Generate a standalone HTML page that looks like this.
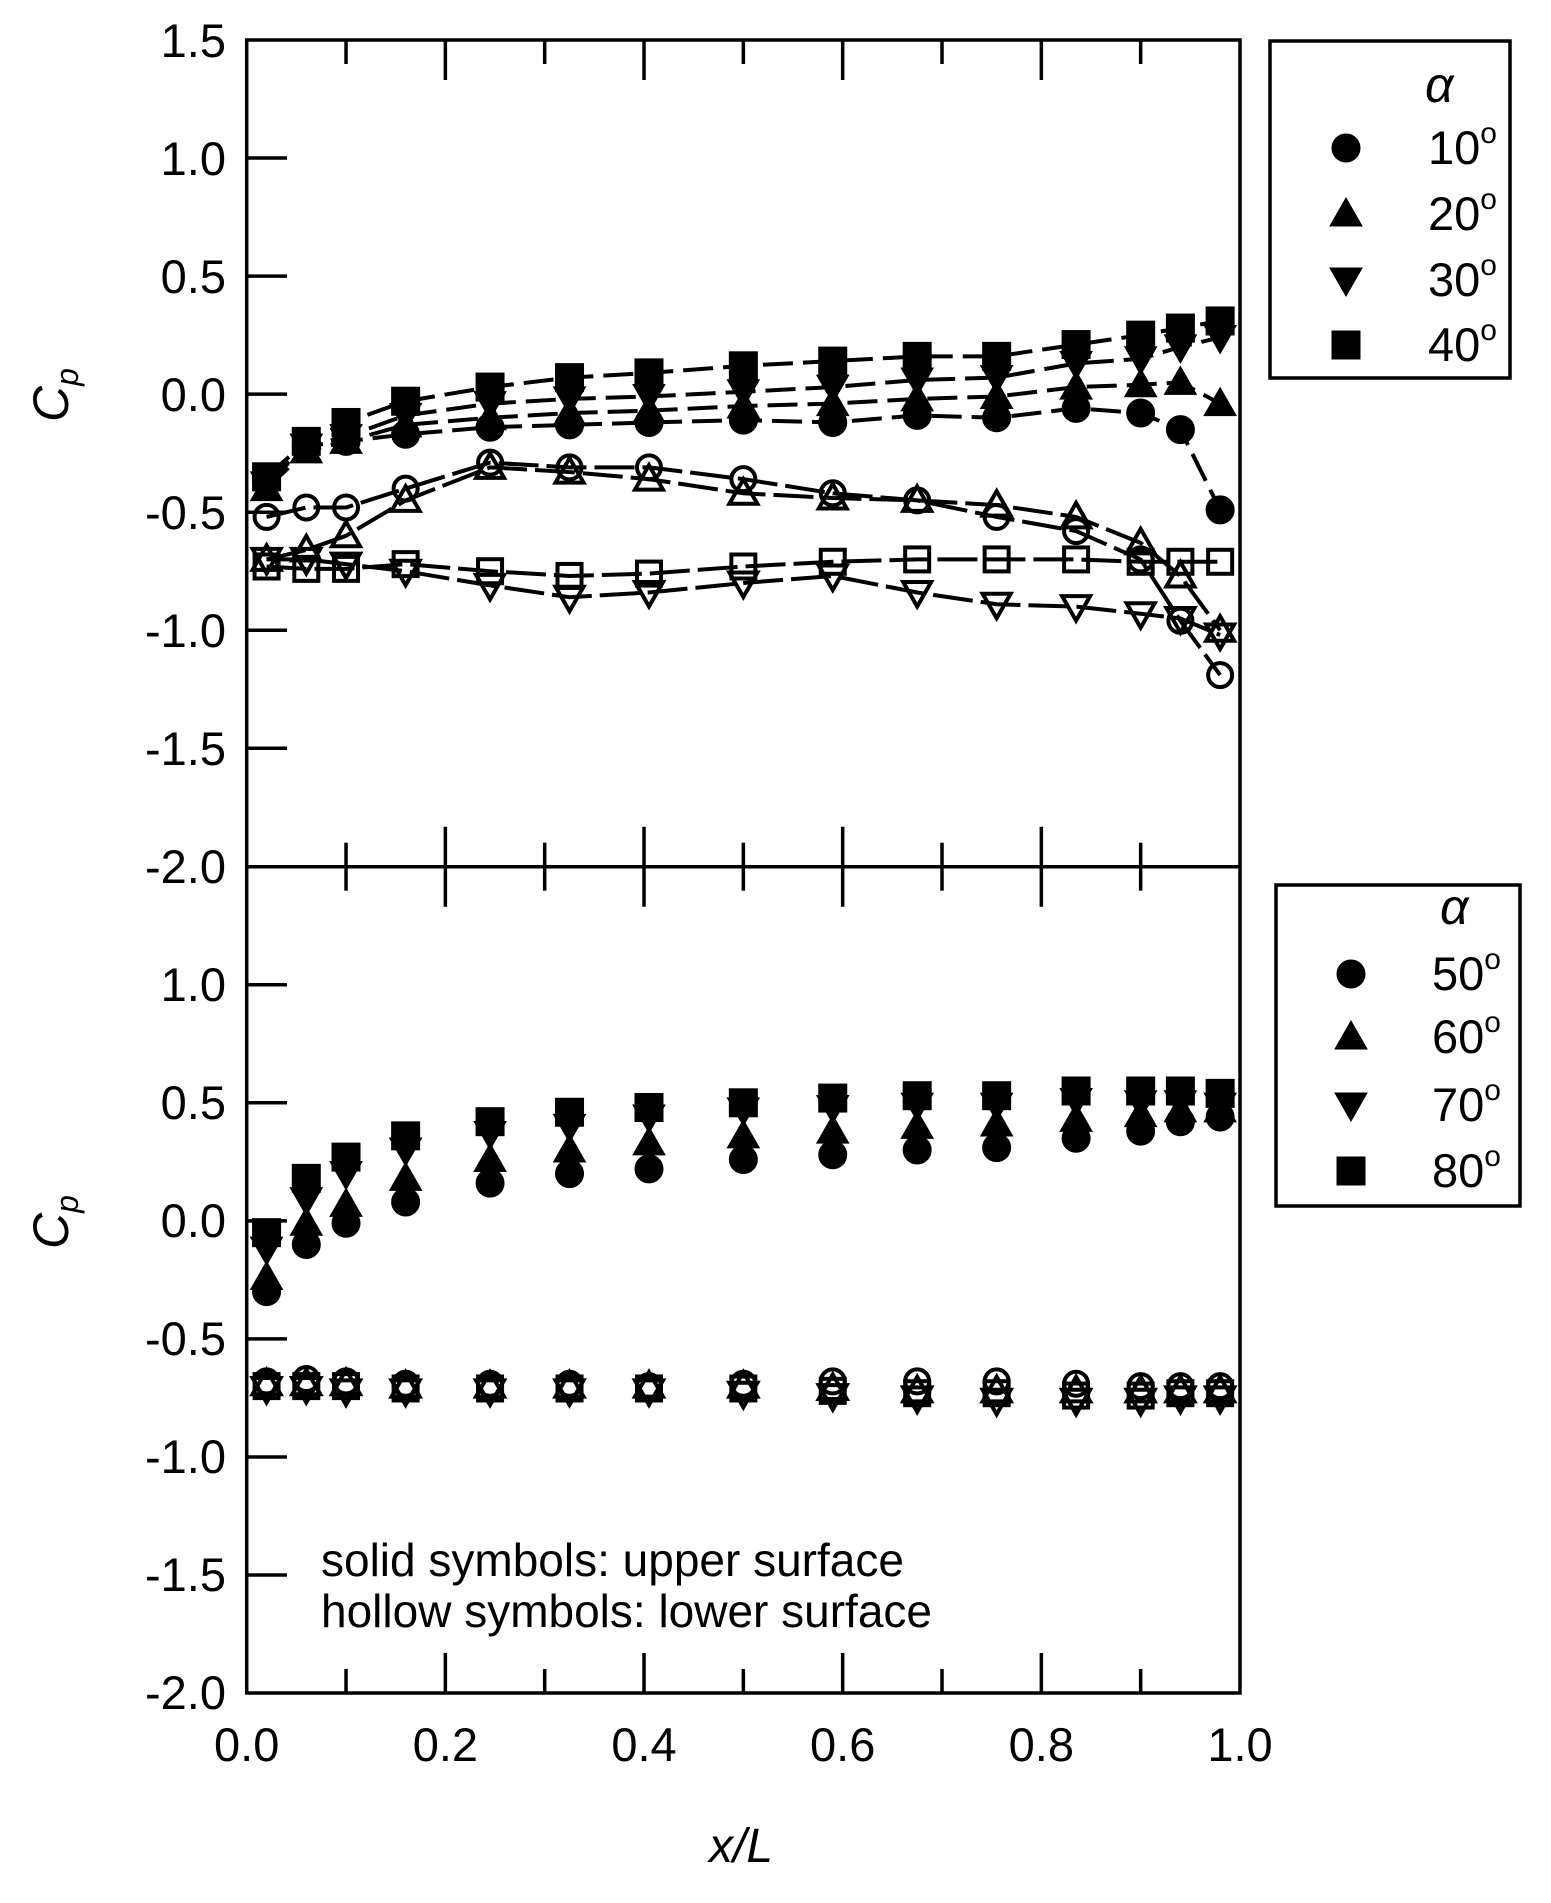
<!DOCTYPE html>
<html><head><meta charset="utf-8"><style>
html,body{margin:0;padding:0;background:#fff}
svg text{font-family:"Liberation Sans",sans-serif;fill:#000}
</style></head><body>
<svg id="s" width="1551" height="1898" viewBox="0 0 1551 1898" xmlns="http://www.w3.org/2000/svg">
<g id="axes" stroke="#000" stroke-width="3.5" fill="none">
<rect x="246.7" y="40" width="993.3" height="1653"/>
<line x1="246.7" y1="866.7" x2="1240" y2="866.7"/>
</g>
<g id="ticks" stroke="#000" stroke-width="3.5"></g>
<g id="data"></g>
<g font-size="47" text-anchor="end" id="ylab">
<text x="226" y="57">1.5</text><text x="226" y="175">1.0</text><text x="226" y="293">0.5</text>
<text x="226" y="411">0.0</text><text x="226" y="529">-0.5</text><text x="226" y="647">-1.0</text>
<text x="226" y="765">-1.5</text><text x="226" y="883">-2.0</text>
<text x="226" y="1001">1.0</text><text x="226" y="1119">0.5</text>
<text x="226" y="1237">0.0</text><text x="226" y="1355">-0.5</text><text x="226" y="1473">-1.0</text>
<text x="226" y="1591">-1.5</text><text x="226" y="1709">-2.0</text>
</g>
<g font-size="47" text-anchor="middle">
<text x="246.7" y="1761">0.0</text><text x="445.4" y="1761">0.2</text><text x="644" y="1761">0.4</text>
<text x="842.7" y="1761">0.6</text><text x="1041.3" y="1761">0.8</text><text x="1240" y="1761">1.0</text>
</g>
<text x="741" y="1862" font-size="48" font-style="italic" text-anchor="middle">x/L</text>
<text transform="translate(68,395) rotate(-90)" font-size="50" font-style="italic" text-anchor="middle">C<tspan font-size="32" dy="10">p</tspan></text>
<text transform="translate(68,1222) rotate(-90)" font-size="50" font-style="italic" text-anchor="middle">C<tspan font-size="32" dy="10">p</tspan></text>
<text x="321" y="1576" font-size="46">solid symbols: upper surface</text>
<text x="321" y="1627" font-size="46">hollow symbols: lower surface</text>
<rect x="1270" y="41" width="240" height="337" fill="none" stroke="#000" stroke-width="3.5"/>
<rect x="1276" y="885" width="244" height="321" fill="none" stroke="#000" stroke-width="3.5"/>
<g font-size="47">
<text x="1425" y="102" font-family="Liberation Serif" font-style="italic" font-size="50">α</text>
<text x="1428" y="164">10<tspan font-size="30" dy="-21">o</tspan></text>
<text x="1428" y="230">20<tspan font-size="30" dy="-21">o</tspan></text>
<text x="1428" y="296">30<tspan font-size="30" dy="-21">o</tspan></text>
<text x="1428" y="361">40<tspan font-size="30" dy="-21">o</tspan></text>
<text x="1440" y="924" font-family="Liberation Serif" font-style="italic" font-size="50">α</text>
<text x="1432" y="990">50<tspan font-size="30" dy="-21">o</tspan></text>
<text x="1432" y="1053">60<tspan font-size="30" dy="-21">o</tspan></text>
<text x="1432" y="1121">70<tspan font-size="30" dy="-21">o</tspan></text>
<text x="1432" y="1187">80<tspan font-size="30" dy="-21">o</tspan></text>
</g>
</svg>
<script>
(function(){
var NS="http://www.w3.org/2000/svg";
function el(p,t,a){var e=document.createElementNS(NS,t);for(var k in a)e.setAttribute(k,a[k]);p.appendChild(e);return e;}
var X=function(x){return 246.7+x*993.3;};
var YT=function(v){return 40+(1.5-v)*236.1;};
var YB=function(v){return 866.7+(1.5-v)*236.1;};
var tk=document.getElementById('ticks');
for(var i=1;i<10;i++){var x=X(i/10),L=(i%2==0)?40:24;
 el(tk,'line',{x1:x,y1:40,x2:x,y2:40+L});
 el(tk,'line',{x1:x,y1:866.7-L,x2:x,y2:866.7+L});
 el(tk,'line',{x1:x,y1:1693,x2:x,y2:1693-L});}
for(var v=-1.5;v<=1.01;v+=0.5){el(tk,'line',{x1:246.7,y1:YT(v),x2:287,y2:YT(v)});el(tk,'line',{x1:246.7,y1:YB(v),x2:287,y2:YB(v)});}
var d=document.getElementById('data');
function mk(type,cx,cy,fill){var a,k;
 var st=fill?{fill:'#000',stroke:'#000','stroke-width':1}:{fill:'none',stroke:'#000','stroke-width':4};
 if(type=='c'){a={cx:cx,cy:cy,r:fill?14:12};for(k in st)a[k]=st[k];el(d,'circle',a);}
 else if(type=='s'){var h=fill?14:12;a={x:cx-h,y:cy-h,width:2*h,height:2*h};for(k in st)a[k]=st[k];el(d,'rect',a);}
 else{var h2=fill?16:14,dir=type=='t'?1:-1;
  a={points:(cx)+','+(cy-dir*h2)+' '+(cx-h2)+','+(cy+dir*h2*0.75)+' '+(cx+h2)+','+(cy+dir*h2*0.75)};for(k in st)a[k]=st[k];el(d,'polygon',a);}}
var xs=[0.02,0.06,0.1,0.16,0.245,0.325,0.405,0.5,0.59,0.675,0.755,0.835,0.9,0.94,0.98];
var tp=[
['c',1,[-0.37,-0.22,-0.2,-0.17,-0.14,-0.13,-0.12,-0.11,-0.12,-0.09,-0.1,-0.06,-0.08,-0.15,-0.49]],
['t',1,[-0.4,-0.24,-0.2,-0.13,-0.1,-0.08,-0.07,-0.05,-0.04,-0.02,-0.01,0.03,0.04,0.05,-0.04]],
['d',1,[-0.38,-0.22,-0.18,-0.09,-0.04,-0.02,-0.01,0.01,0.03,0.06,0.07,0.13,0.15,0.2,0.24]],
['s',1,[-0.35,-0.2,-0.12,-0.03,0.03,0.07,0.09,0.12,0.14,0.16,0.16,0.21,0.25,0.28,0.31]],
['c',0,[-0.52,-0.48,-0.48,-0.4,-0.29,-0.31,-0.31,-0.36,-0.42,-0.45,-0.52,-0.58,-0.7,-0.96,-1.19]],
['t',0,[-0.7,-0.66,-0.6,-0.45,-0.31,-0.33,-0.36,-0.42,-0.44,-0.45,-0.47,-0.52,-0.63,-0.77,-1.0]],
['d',0,[-0.7,-0.7,-0.72,-0.75,-0.81,-0.86,-0.84,-0.8,-0.77,-0.84,-0.89,-0.9,-0.93,-0.95,-1.02]],
['s',0,[-0.73,-0.74,-0.74,-0.72,-0.75,-0.77,-0.76,-0.73,-0.71,-0.7,-0.7,-0.7,-0.71,-0.71,-0.71]]];
tp.forEach(function(sr){var pts=xs.map(function(x,i){return X(x)+','+YT(sr[2][i]);}).join(' ');
 el(d,'polyline',{points:pts,fill:'none',stroke:'#000','stroke-width':4,'stroke-dasharray':sr[1]?'30,10':'40,8'});});
tp.forEach(function(sr){xs.forEach(function(x,i){mk(sr[0],X(x),YT(sr[2][i]),sr[1]);});});
var bt=[
['c',1,[-0.3,-0.1,-0.01,0.08,0.16,0.2,0.22,0.26,0.28,0.3,0.31,0.35,0.38,0.42,0.44]],
['t',1,[-0.24,-0.01,0.07,0.18,0.26,0.3,0.33,0.36,0.38,0.4,0.41,0.43,0.45,0.47,0.47]],
['d',1,[-0.12,0.09,0.2,0.3,0.37,0.4,0.44,0.47,0.48,0.49,0.49,0.51,0.5,0.5,0.49]],
['s',1,[-0.05,0.18,0.27,0.36,0.42,0.46,0.48,0.5,0.52,0.53,0.53,0.55,0.55,0.55,0.54]],
['c',0,[-0.68,-0.67,-0.68,-0.69,-0.69,-0.69,-0.7,-0.69,-0.68,-0.68,-0.68,-0.69,-0.7,-0.7,-0.7]],
['t',0,[-0.69,-0.69,-0.69,-0.7,-0.7,-0.7,-0.7,-0.7,-0.71,-0.72,-0.72,-0.72,-0.72,-0.72,-0.72]],
['d',0,[-0.71,-0.71,-0.72,-0.72,-0.72,-0.72,-0.72,-0.73,-0.74,-0.75,-0.76,-0.76,-0.76,-0.75,-0.75]],
['s',0,[-0.7,-0.7,-0.7,-0.71,-0.71,-0.71,-0.71,-0.71,-0.72,-0.73,-0.73,-0.74,-0.74,-0.73,-0.73]]];
bt.forEach(function(sr){xs.forEach(function(x,i){mk(sr[0],X(x),YB(sr[2][i]),sr[1]);});});
var ty=['c','t','d','s'];
[148,214,280,345].forEach(function(y,i){mk(ty[i],1346,y,1);});
[974,1037,1105,1171].forEach(function(y,i){mk(ty[i],1351,y,1);});
})();
</script>
</body></html>
